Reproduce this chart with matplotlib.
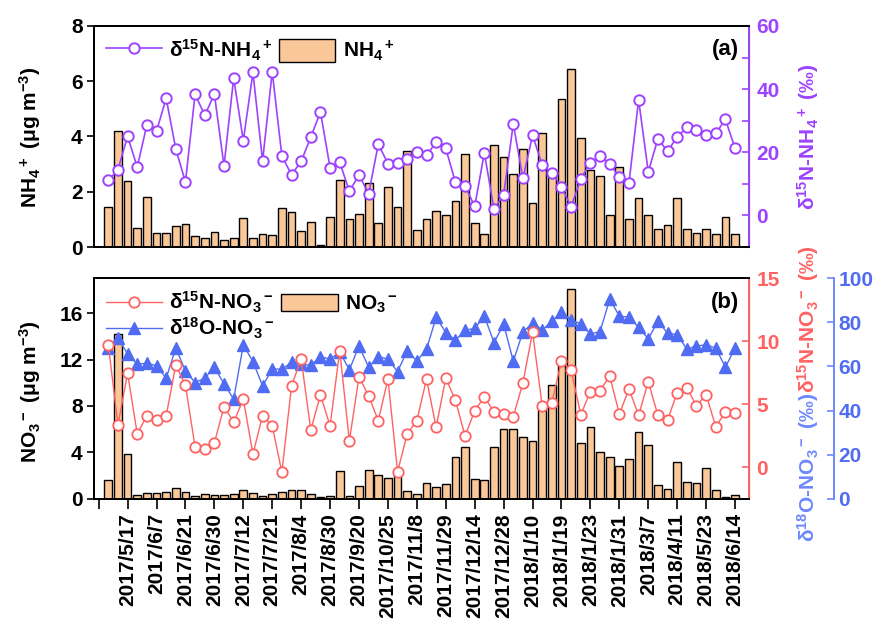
import numpy as np
from matplotlib import pyplot
from matplotlib.lines import Line2D
from matplotlib.patches import Patch

pyplot.rcParams['font.family'] = ['Liberation Sans', 'DejaVu Sans']
pyplot.rcParams['font.weight'] = 'bold'
pyplot.rcParams['mathtext.fontset'] = 'custom'
pyplot.rcParams['mathtext.rm'] = 'Liberation Sans:bold'
pyplot.rcParams['mathtext.it'] = 'Liberation Sans:bold'
pyplot.rcParams['mathtext.bf'] = 'Liberation Sans:bold'
pyplot.rcParams['mathtext.default'] = 'rm'

nh4 = [1.45, 4.2, 2.38, 0.70, 1.81, 0.51, 0.51, 0.77, 0.85, 0.40, 0.34, 0.56, 0.27, 0.31, 1.06, 0.31,
       0.46, 0.43, 1.41, 1.27, 0.57, 0.92, 0.08, 1.07, 2.43, 1.01, 1.18, 2.31, 0.87, 2.19, 1.46, 3.49,
       0.61, 1.00, 1.30, 1.15, 1.68, 3.35, 0.88, 0.48, 3.68, 3.25, 2.64, 3.55, 1.58, 4.12, 2.6, 5.34,
       6.43, 3.96, 2.77, 2.57, 1.17, 2.90, 1.03, 1.76, 1.15, 0.64, 0.81, 1.79, 0.64, 0.52, 0.65, 0.46,
       1.10, 0.47]
d15n_nh4 = [11.1, 14.5, 25.1, 15.3, 28.7, 26.7, 37.1, 21.0, 10.6, 38.4, 31.7, 38.4, 15.7, 43.5, 23.7,
            45.3, 17.2, 45.5, 18.8, 12.9, 17.1, 24.8, 32.8, 15.1, 16.9, 7.6, 12.9, 6.8, 22.6, 16.4,
            16.7, 18.0, 20.1, 19.0, 23.2, 21.2, 10.5, 9.3, 2.9, 19.8, 2.0, 6.5, 29.0, 11.7, 25.4, 16.0,
            13.5, 9.0, 2.75, 11.6, 16.6, 18.9, 16.4, 12.1, 10.3, 36.6, 13.8, 24.3, 20.3, 24.9, 27.9,
            27.0, 25.6, 26.0, 30.4, 21.3]
no3 = [1.58, 14.2, 3.88, 0.29, 0.46, 0.46, 0.55, 0.92, 0.55, 0.23, 0.40, 0.35, 0.35, 0.40, 0.72, 0.46,
       0.23, 0.40, 0.58, 0.78, 0.78, 0.40, 0.15, 0.26, 2.42, 0.26, 1.12, 2.45, 2.04, 1.76, 2.24, 0.66,
       0.40, 1.38, 1.0, 1.24, 3.63, 4.43, 1.70, 1.58, 4.49, 6.01, 5.99, 5.29, 4.98, 7.65, 9.78, 11.5,
       18.1, 4.83, 6.19, 4.0, 3.57, 2.82, 3.40, 5.76, 4.60, 1.18, 0.81, 3.17, 1.44, 1.38, 2.62, 0.78,
       0.17, 0.32]
d15n_no3 = [9.71, 3.38, 7.46, 2.64, 4.1, 3.75, 4.07, 8.14, 6.5, 1.61, 1.48, 1.93, 4.81, 3.59, 5.39,
            1.05, 4.1, 3.3, -0.40, 6.45, 8.6, 2.96, 5.74, 3.28, 9.26, 2.09, 7.19, 5.66, 3.7, 7.0,
            -0.35, 2.64, 3.7, 7.0, 3.17, 7.09, 5.31, 2.48, 4.49, 5.58, 4.39, 4.26, 4.02, 6.69, 10.74,
            4.87, 5.13, 8.46, 7.69, 4.18, 6.0, 6.08, 7.25, 4.23, 6.22, 4.12, 6.8, 4.12, 3.75, 5.92,
            6.32, 4.87, 5.77, 3.22, 4.39, 4.28]
d18o_no3 = [68.3, 72.8, 65.7, 61.0, 61.5, 60.3, 54.7, 68.3, 58.0, 52.7, 54.7, 59.7, 52.1, 45.2, 69.8,
            62.2, 51.2, 58.8, 58.8, 61.8, 61.0, 60.5, 64.5, 63.3, 66.6, 58.5, 69.3, 59.7, 64.5, 63.3,
            57.7, 67.1, 62.5, 67.8, 82.3, 75.4, 71.9, 76.4, 77.3, 82.9, 70.8, 79.2, 62.4, 75.7, 79.6,
            76.6, 80.4, 84.9, 81.1, 79.3, 74.8, 75.8, 90.5, 82.9, 82.3, 77.8, 72.5, 80.5, 75.1, 74.5,
            67.8, 69.3, 69.8, 68.3, 59.7, 68.3]
dates = ['2017/5/17', '2017/6/7', '2017/6/21', '2017/6/30', '2017/7/12', '2017/7/21', '2017/8/4',
         '2017/8/30', '2017/9/20', '2017/10/25', '2017/11/8', '2017/11/29', '2017/12/14', '2017/12/28',
         '2018/1/10', '2018/1/19', '2018/1/23', '2018/1/31', '2018/3/7', '2018/4/11', '2018/5/23',
         '2018/6/14']

bar_color = '#FAC898'
purple = '#9D42FF'
red = '#FF6262'
blue = '#4F6CF2'
blue_axis = '#6E88FF'
fs = 15

x = np.arange(len(nh4))
xlim = (-1.45, 66.48)

fig = pyplot.figure(figsize=(8.8, 6.23), dpi=100)
ax1 = fig.add_axes([0.1072, 0.6035, 0.7443, 0.3548])
ax2 = fig.add_axes([0.1072, 0.1995, 0.7443, 0.3538])

# ---- panel (a)
ax1.bar(x, nh4, width=0.8, color=bar_color, edgecolor='black', linewidth=1)
ax1.set_xlim(*xlim)
ax1.set_ylim(0, 8)
ax1.set_yticks([0, 2, 4, 6, 8])
ax1.tick_params(axis='y', direction='out', length=5, width=1.2, labelsize=fs)
ax1.tick_params(axis='x', bottom=False, labelbottom=False)

ax1r = ax1.twinx()
ax1r.plot(x, d15n_nh4, color=purple, lw=1.2, marker='o', ms=7.5, mfc='white', mec=purple, mew=1.4)
ax1r.set_ylim(-10, 60)
ax1r.set_yticks([0, 20, 40, 60])
ax1r.set_yticks([10, 30, 50], minor=True)
ax1r.tick_params(axis='y', which='both', direction='in', length=5, width=1.2, colors=purple,
                 labelsize=fs, pad=5)
ax1r.spines['right'].set_color(purple)
ax1r.spines['right'].set_linewidth(1.4)
ax1r.set_xlim(*xlim)

h1 = [Line2D([], [], color=purple, lw=1.2, marker='o', ms=7.5, mfc='white', mec=purple, mew=1.4),
      Patch(facecolor=bar_color, edgecolor='black')]
ax1r.legend(h1, ['δ$^{15}$N-NH$_4$$^+$', 'NH$_4$$^+$'], loc='upper left', ncol=2, frameon=False,
            fontsize=fs, handlelength=2.7, handleheight=1.3, columnspacing=0.3, handletextpad=0.35,
            borderaxespad=0.15, bbox_to_anchor=(0.0, 1.0))
ax1r.text(0.985, 0.94, '(a)', transform=ax1r.transAxes, ha='right', va='top', fontsize=fs + 1)

# ---- panel (b)
ax2.bar(x, no3, width=0.8, color=bar_color, edgecolor='black', linewidth=1)
ax2.set_xlim(*xlim)
ax2.set_ylim(0, 19)
ax2.set_yticks([0, 4, 8, 12, 16])
ax2.tick_params(axis='y', direction='out', length=5, width=1.2, labelsize=fs)
tick_pos = np.arange(-1, 66, 3)
ax2.set_xticks(tick_pos)
ax2.set_xticklabels([''] + dates, rotation=90, fontsize=fs)
ax2.tick_params(axis='x', direction='out', length=7, width=1.2)

ax2b = ax2.twinx()
ax2b.plot(x, d18o_no3, color=blue, lw=1.0, marker='^', ms=8.5, mfc=blue, mec=blue)
ax2b.set_ylim(0, 100)
ax2b.set_yticks([0, 20, 40, 60, 80, 100])
ax2b.spines['right'].set_position(('axes', 1.1293))
ax2b.spines['right'].set_color(blue_axis)
ax2b.spines['right'].set_linewidth(1.4)
ax2b.tick_params(axis='y', direction='in', length=5, width=1.2, colors=blue_axis,
                 labelcolor=blue, labelsize=fs, pad=3)
ax2b.set_xlim(*xlim)

ax2r = ax2.twinx()
ax2r.plot(x, d15n_no3, color=red, lw=1.0, marker='o', ms=7.5, mfc='white', mec=red, mew=1.3)
ax2r.set_ylim(-2.5, 15)
ax2r.set_yticks([0, 5, 10, 15])
ax2r.tick_params(axis='y', direction='in', length=5, width=1.2, colors=red, labelsize=fs, pad=5)
ax2r.spines['right'].set_color(red)
ax2r.spines['right'].set_linewidth(1.4)
ax2r.set_xlim(*xlim)

h2 = [Line2D([], [], color=red, lw=1.0, marker='o', ms=7.5, mfc='white', mec=red, mew=1.3),
      Line2D([], [], color=blue, lw=1.0, marker='^', ms=8.5, mfc=blue, mec=blue),
      Patch(facecolor=bar_color, edgecolor='black')]
ax2r.legend(h2, ['δ$^{15}$N-NO$_3$$^-$', 'δ$^{18}$O-NO$_3$$^-$', 'NO$_3$$^-$'], loc='upper left',
            ncol=2, frameon=False, fontsize=fs, handlelength=2.7, handleheight=0.9, labelspacing=0.05,
            columnspacing=0.3, handletextpad=0.35, borderaxespad=0.15, bbox_to_anchor=(0.0, 1.0))
ax2r.text(0.985, 0.94, '(b)', transform=ax2r.transAxes, ha='right', va='top', fontsize=fs + 1)

for a in (ax1, ax2, ax1r, ax2r, ax2b):
    for s in ('left', 'top', 'bottom'):
        a.spines[s].set_linewidth(1.4)

# ---- axis titles
fig.text(0.034, 0.78, 'NH$_4$$^+$ (μg m$^{-3}$)', rotation=90, ha='center', va='center', fontsize=fs)
fig.text(0.034, 0.372, 'NO$_3$$^-$ (μg m$^{-3}$)', rotation=90, ha='center', va='center', fontsize=fs)
fig.text(0.918, 0.78, 'δ$^{15}$N-NH$_4$$^+$ (‰)', rotation=90, ha='center', va='center',
         fontsize=fs, color=purple)
fig.text(0.918, 1 - 393 / 623, 'δ$^{15}$N-NO$_3$$^-$ (‰)', rotation=90, ha='center', va='bottom',
         fontsize=fs, color=red)
fig.text(0.918, 1 - 393 / 623, 'δ$^{18}$O-NO$_3$$^-$ (‰)', rotation=90, ha='center', va='top',
         fontsize=fs, color=blue_axis)

fig.savefig('out.png', dpi=100)
